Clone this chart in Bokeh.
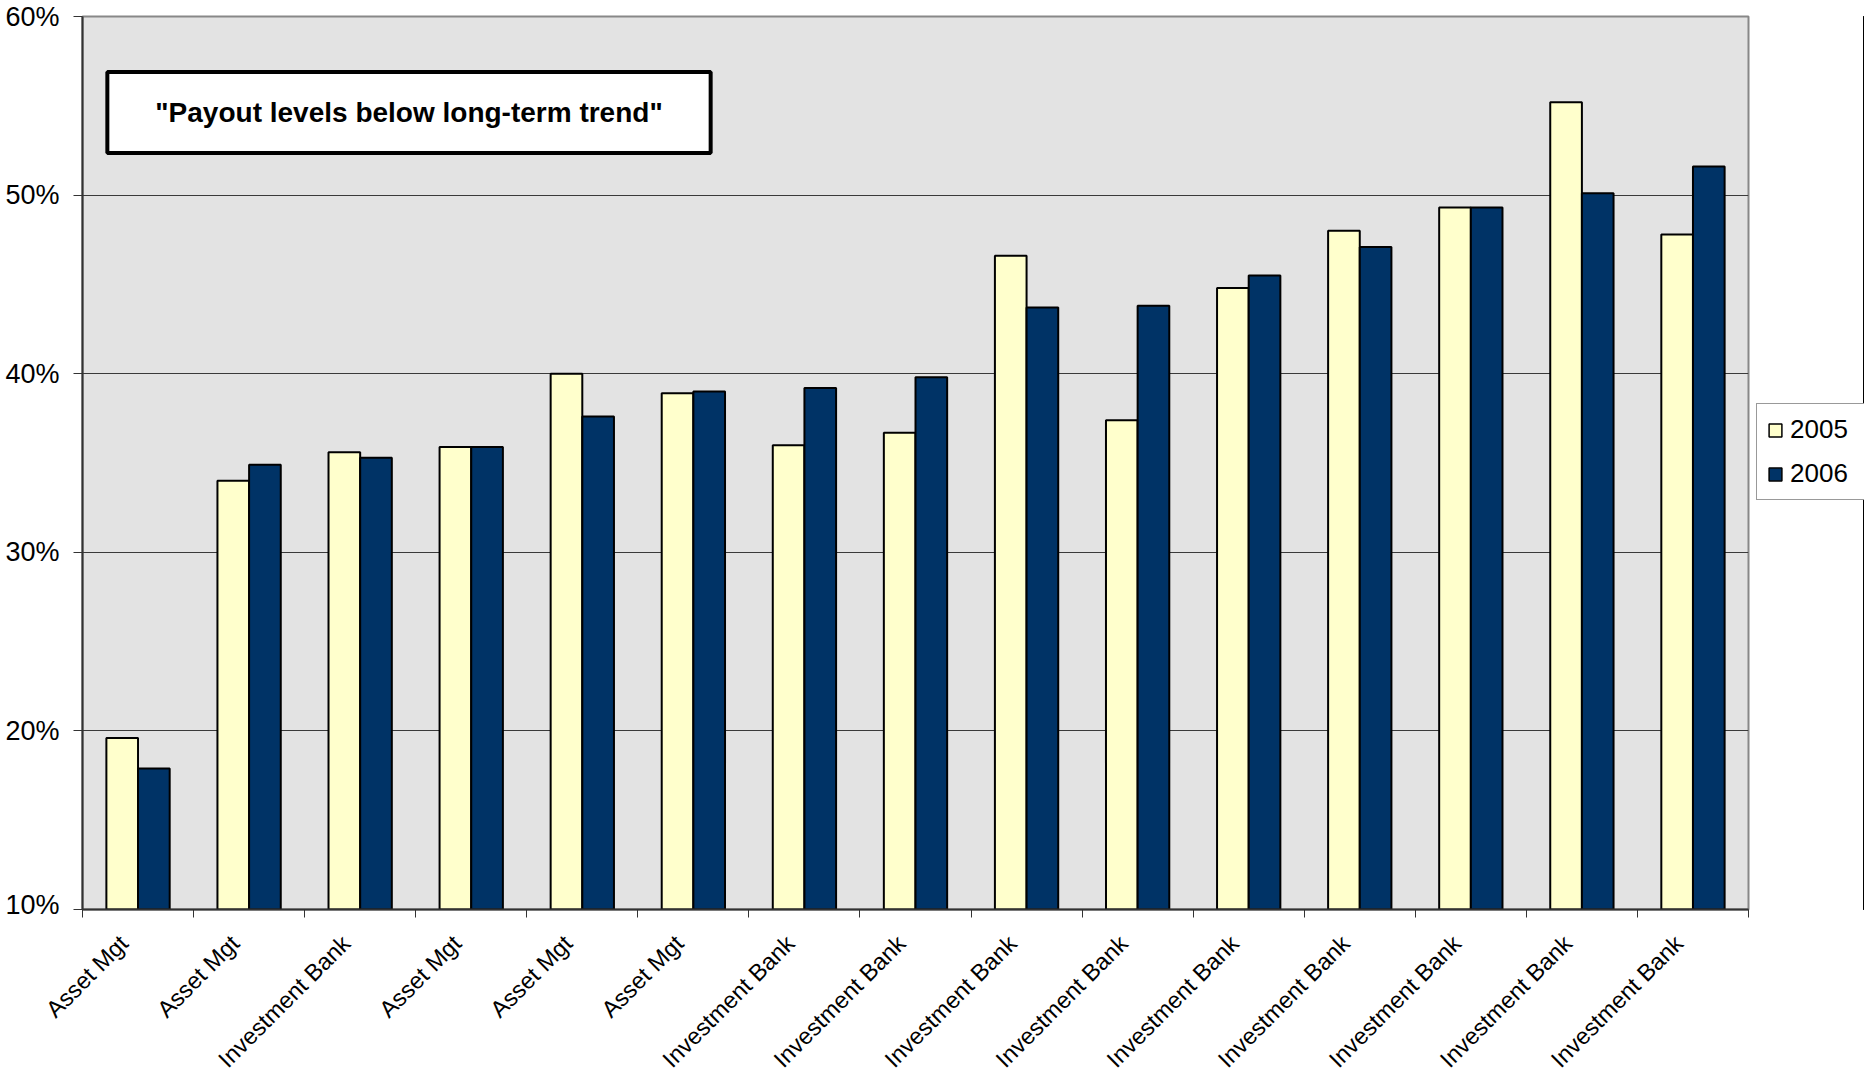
import math
from bokeh.plotting import figure
from bokeh.layouts import row, column
from bokeh.models import (Range1d, FixedTicker, Legend, LegendItem,
                          Label, ColumnDataSource)
from bokeh.core.properties import value
from bokeh.transform import dodge
from bokeh.embed import file_html
from bokeh.resources import INLINE

# ---------------- data ----------------
categories = ["Asset Mgt", "Asset Mgt", "Investment Bank", "Asset Mgt", "Asset Mgt",
              "Asset Mgt", "Investment Bank", "Investment Bank", "Investment Bank",
              "Investment Bank", "Investment Bank", "Investment Bank", "Investment Bank",
              "Investment Bank", "Investment Bank"]
payout_2005 = [19.6, 34.0, 35.6, 35.9, 40.0, 38.9, 36.0, 36.7, 46.6, 37.4, 44.8, 48.0, 49.3, 55.2, 47.8]
payout_2006 = [17.9, 34.9, 35.3, 35.9, 37.6, 39.0, 39.2, 39.8, 43.7, 43.8, 45.5, 47.1, 49.3, 50.1, 51.6]
series_names = ["2005", "2006"]
series_colors = ["#ffffcc", "#003366"]
y_ticks = [10, 20, 30, 40, 50, 60]
y_tick_labels = ["10%", "20%", "30%", "40%", "50%", "60%"]
annotation_text = '"Payout levels below long-term trend"'

# ---------------- layout constants ----------------
FONT = "Liberation Sans"
W, H = 1864, 1073
LEG_W = 108                 # legend strip on the right
MAIN_W = W - LEG_W          # 1756
FRAME_L, FRAME_R_PAD = 82, 8
FRAME_T = 16
FRAME_B = 909               # y of the 10% line
AX_B = 10                   # room for the boundary tick marks
MAIN_H = FRAME_B + AX_B
LAB_H = H - MAIN_H
LABEL_DROP = 30             # label anchor distance below the axis
LABEL_SHIFT = -14           # horizontal nudge of the label anchor
LEGEND_BOTTOM = 500         # y of legend box bottom on the page

n = len(categories)
pos = [i + 1 for i in range(n)]
boundaries = [i + 0.5 for i in range(n + 1)]
src = ColumnDataSource(dict(pos=pos, cat=categories, v05=payout_2005, v06=payout_2006))

# ---------------- main chart ----------------
p = figure(width=MAIN_W, height=MAIN_H, x_range=Range1d(0.5, n + 0.5), y_range=Range1d(10, 60),
           output_backend="svg", toolbar_location=None,
           min_border_left=FRAME_L, min_border_right=FRAME_R_PAD,
           min_border_top=FRAME_T, min_border_bottom=AX_B)
p.border_fill_color = "white"
p.background_fill_color = "#e3e3e3"
p.outline_line_color = "#888888"
p.outline_line_width = 2

bar_w = 0.285
r05 = p.vbar(x=dodge("pos", -bar_w / 2, range=p.x_range), top="v05", bottom=10, width=bar_w,
             source=src, fill_color=series_colors[0], line_color="black", line_width=2)
r06 = p.vbar(x=dodge("pos", bar_w / 2, range=p.x_range), top="v06", bottom=10, width=bar_w,
             source=src, fill_color=series_colors[1], line_color="black", line_width=2)

p.yaxis.ticker = FixedTicker(ticks=y_ticks)
p.yaxis.major_label_overrides = {t: l for t, l in zip(y_ticks, y_tick_labels)}
p.yaxis.major_tick_out = 9
p.yaxis.major_tick_in = 0
p.yaxis.minor_tick_line_color = None
p.yaxis.major_label_text_font = FONT
p.yaxis.major_label_text_font_size = "27px"
p.yaxis.major_label_text_color = "black"
p.yaxis.axis_line_color = "#333333"
p.yaxis.axis_line_width = 2
p.yaxis.major_tick_line_color = "#333333"
p.yaxis.major_label_standoff = 14

p.ygrid.ticker = FixedTicker(ticks=y_ticks)
p.ygrid.grid_line_color = "#3a3a3a"
p.ygrid.grid_line_width = 1
p.xgrid.grid_line_color = None

# x axis: only tick marks at category boundaries (labels drawn below)
p.xaxis.ticker = FixedTicker(ticks=pos, minor_ticks=boundaries)
p.xaxis.major_label_overrides = {k: "" for k in pos}
p.xaxis.major_label_text_font_size = "0px"
p.xaxis.major_label_standoff = 0
p.xaxis.major_tick_out = 0
p.xaxis.major_tick_in = 0
p.xaxis.major_tick_line_color = None
p.xaxis.minor_tick_out = 8
p.xaxis.minor_tick_in = 0
p.xaxis.minor_tick_line_color = "#333333"
p.xaxis.axis_line_color = "#333333"
p.xaxis.axis_line_width = 2

ann = Label(x=(107 + 710) / 2 - FRAME_L, y=FRAME_B - (71 + 153) / 2,
            x_units="screen", y_units="screen", text=annotation_text,
            text_font=FONT, text_font_size="28px", text_font_style="bold", text_color="black",
            text_align="center", text_baseline="middle",
            background_fill_color="white", border_line_color="black", border_line_width=4,
            padding=(48, 48, 25, 25))
p.add_layout(ann)

# ---------------- legend strip ----------------
pg = figure(width=LEG_W, height=MAIN_H, x_range=Range1d(-3, -2), y_range=Range1d(0, 1),
            output_backend="svg", toolbar_location=None, x_axis_type=None, y_axis_type=None,
            min_border_left=0, min_border_right=0, min_border_top=0, min_border_bottom=0)
pg.outline_line_color = None
pg.background_fill_color = "white"
pg.border_fill_color = "white"
# same data, drawn outside this strip's visible range; only the legend swatches show
g05 = pg.vbar(x="pos", top="v05", width=bar_w, source=src, fill_color=series_colors[0],
              line_color="black", line_width=1.5)
g06 = pg.vbar(x="pos", top="v06", width=bar_w, source=src, fill_color=series_colors[1],
              line_color="black", line_width=1.5)
legend = Legend(items=[LegendItem(label=series_names[0], renderers=[g05]),
                       LegendItem(label=series_names[1], renderers=[g06])],
                location=(0, FRAME_B - LEGEND_BOTTOM), orientation="vertical",
                label_text_font=FONT, label_text_font_size="26px", label_text_color="black",
                glyph_width=16, glyph_height=16, label_height=30, label_width=64,
                label_standoff=7, spacing=13, padding=10, margin=0,
                background_fill_color="white", background_fill_alpha=1.0,
                border_line_color="#333333", border_line_width=1)
pg.add_layout(legend, "center")

# ---------------- category labels strip ----------------
px_per_unit = (MAIN_W - FRAME_R_PAD - FRAME_L) / n
lab_range = Range1d(0.5 - FRAME_L / px_per_unit, 0.5 + (W - FRAME_L) / px_per_unit)
pl = figure(width=W, height=LAB_H, x_range=lab_range, y_range=Range1d(0, 1),
            output_backend="svg", toolbar_location=None, x_axis_type=None, y_axis_type=None,
            min_border_left=0, min_border_right=0, min_border_top=0, min_border_bottom=0)
pl.outline_line_color = None
pl.background_fill_color = "white"
pl.border_fill_color = "white"
pl.text(x="pos", y=1, text="cat", source=src, angle=math.pi / 4,
        text_align="right", text_baseline="middle",
        x_offset=LABEL_SHIFT, y_offset=LABEL_DROP - AX_B,
        text_font=value(FONT), text_font_size="23.5px", text_color="black")

layout = column(row(p, pg, spacing=0), pl, spacing=0)
open("out.html", "w").write(file_html(layout, INLINE))
